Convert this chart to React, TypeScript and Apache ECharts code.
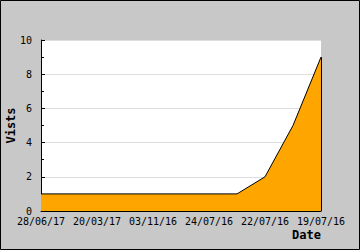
import React, { useEffect, useRef } from "react";
import * as echarts from "echarts";

const dates = [
  "28/06/17", "05/05/17", "20/03/17", "10/01/17", "03/11/16", "15/09/16",
  "24/07/16", "23/07/16", "22/07/16", "20/07/16", "19/07/16",
];
const visits = [1, 1, 1, 1, 1, 1, 1, 1, 2, 5, 9];
const yTicks = [0, 2, 4, 6, 8, 10];

const FONT = "DejaVu Sans Mono";

export default function App() {
  const ref = useRef<HTMLDivElement>(null);
  useEffect(() => {
    document.body.style.margin = "0";
    const chart = echarts.init(ref.current!, null, { renderer: "svg" });
    chart.setOption({
      animation: false,
      backgroundColor: "#c8c8c8",
      textStyle: { fontFamily: FONT },
      graphic: [
        {
          type: "rect",
          shape: { x: 0.5, y: 0.5, width: 359, height: 249 },
          style: { fill: "none", stroke: "#000", lineWidth: 1 },
          silent: true,
        },
      ],
      grid: {
        left: 41,
        top: 40,
        right: 39,
        bottom: 39,
        containLabel: false,
        outerBoundsMode: "none",
        show: true,
        backgroundColor: "#fff",
        borderWidth: 0,
      },
      xAxis: {
        type: "category",
        data: dates,
        boundaryGap: false,
        name: "Date",
        nameLocation: "end",
        nameGap: 0,
        nameMoveOverlap: false,
        nameTextStyle: {
          fontFamily: FONT,
          fontWeight: "bold",
          fontSize: 12,
          color: "#000",
          align: "right",
          verticalAlign: "top",
          padding: [18, 0, 0, 0],
        },
        axisLine: { lineStyle: { color: "#000", width: 1 } },
        axisTick: { inside: true, length: 5, interval: 1, lineStyle: { color: "#000" } },
        axisLabel: {
          interval: 1,
          margin: 5,
          fontFamily: FONT,
          fontSize: 10,
          color: "#000",
        },
        splitLine: { show: false },
      },
      yAxis: {
        type: "value",
        min: 0,
        max: 10,
        interval: 2,
        name: "Vists",
        nameLocation: "middle",
        nameGap: 24,
        nameRotate: 90,
        nameMoveOverlap: false,
        nameTextStyle: {
          fontFamily: FONT,
          fontWeight: "bold",
          fontSize: 12,
          color: "#000",
        },
        axisLine: { show: true, lineStyle: { color: "#000", width: 1 } },
        axisTick: { show: true, inside: true, length: 4, lineStyle: { color: "#000" } },
        minorTick: { show: true, splitNumber: 2, length: 3, lineStyle: { color: "#000" } },
        axisLabel: {
          margin: 9,
          fontFamily: FONT,
          fontSize: 10,
          color: "#000",
          formatter: (v: number) => (yTicks.includes(v) ? String(v) : ""),
        },
        splitLine: { show: true, lineStyle: { color: "#dddddd", width: 1 } },
      },
      series: [
        {
          type: "line",
          data: visits,
          symbol: "none",
          lineStyle: { color: "#000", width: 1 },
          areaStyle: { color: "#ffa500", opacity: 1 },
          markLine: {
            silent: true,
            symbol: "none",
            label: { show: false },
            lineStyle: { color: "#000", type: "solid", width: 1 },
            data: [
              [
                { coord: [dates.length - 1, 0] },
                { coord: [dates.length - 1, visits[visits.length - 1]] },
              ],
            ],
          },
        },
      ],
    });
    return () => chart.dispose();
  }, []);
  return (
    <div
      ref={ref}
      style={{ position: "fixed", left: 0, top: 0, width: 360, height: 250 }}
    />
  );
}
